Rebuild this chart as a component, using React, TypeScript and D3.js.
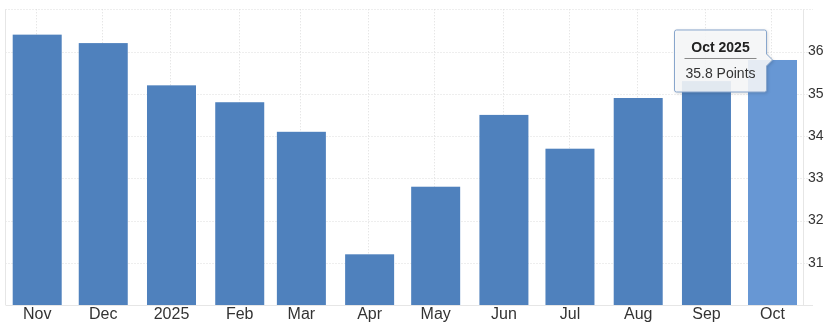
import React from "react";
import * as d3 from "d3";

const W = 833;
const H = 332;

const monthLabels = ["Nov", "Dec", "2025", "Feb", "Mar", "Apr", "May", "Jun", "Jul", "Aug", "Sep", "Oct"];
const monthDates = [
  [2024, 10], [2024, 11], [2025, 0], [2025, 1], [2025, 2], [2025, 3],
  [2025, 4], [2025, 5], [2025, 6], [2025, 7], [2025, 8], [2025, 9],
];
const values = [36.4, 36.2, 35.2, 34.8, 34.1, 31.2, 32.8, 34.5, 33.7, 34.9, 35.3, 35.8];
const yTicks = [31, 32, 33, 34, 35, 36];
const tooltipTitle = "Oct 2025";
const tooltipText = "35.8 Points";

const FONT = "'Liberation Sans', Arial, sans-serif";

export default function App() {
  const dates = monthDates.map(([y, m]) => new Date(Date.UTC(y, m, 1)));
  const x = d3.scaleUtc().domain([dates[0], dates[dates.length - 1]]).range([37.2, 772.5]);
  const y = d3.scaleLinear().domain([30, 37]).range([305, 9.3]);
  const barW = 49;
  const plotL = 5.5;
  const plotR = 803.5;
  const gridColor = "#dcdcdc";
  const axisColor = "#e6e6e6";

  const last = values.length - 1;
  const tipX = x(dates[last]);
  const tipY = y(values[last]);
  const boxW = 92;
  const boxH = 62;
  const boxR = tipX - 6;
  const boxL = boxR - boxW;
  const boxT = tipY - 30;
  const cx = (boxL + boxR) / 2;

  return (
    <div style={{ position: "fixed", left: 0, top: 0 }}>
      <svg width={W} height={H} style={{ display: "block", fontFamily: FONT }}>
        {/* horizontal gridlines */}
        {[...yTicks, 37].map((t) => (
          <line key={"h" + t} x1={plotL} x2={t === 37 ? 813 : 808} y1={Math.round(y(t)) + 0.5} y2={Math.round(y(t)) + 0.5}
            stroke={gridColor} strokeDasharray="1,2" />
        ))}
        {/* vertical gridlines */}
        {dates.map((d, i) => (
          <line key={"v" + i} x1={Math.round(x(d) - 1.2) + 0.5} x2={Math.round(x(d) - 1.2) + 0.5} y1={y(37)} y2={305}
            stroke={gridColor} strokeDasharray="1,2" />
        ))}
        {/* axis lines */}
        <line x1={plotL} x2={plotL} y1={y(37)} y2={305} stroke={axisColor} />
        <line x1={plotR} x2={plotR} y1={y(37)} y2={305} stroke={axisColor} />
        <line x1={plotL} x2={813} y1={305.5} y2={305.5} stroke={axisColor} />
        {/* bars */}
        {values.map((v, i) => (
          <rect key={"b" + i} x={x(dates[i]) - barW / 2} y={y(v)} width={barW} height={305 - y(v)}
            fill={i === last ? "#6797d4" : "#4f81bd"} />
        ))}
        {/* x labels */}
        {monthLabels.map((m, i) => (
          <text key={"x" + i} x={x(dates[i])} y={319} textAnchor="middle" fontSize={16} fill="#333">{m}</text>
        ))}
        {/* y labels */}
        {yTicks.map((t) => (
          <text key={"y" + t} x={808} y={y(t) + 3.8} fontSize={14} fill="#333">{t}</text>
        ))}
        {/* tooltip */}
        <g>
          <path
            d={`M${boxL + 2},${boxT} H${boxR - 2} Q${boxR},${boxT} ${boxR},${boxT + 2} V${tipY - 6} L${tipX},${tipY} L${boxR},${tipY + 6} V${boxT + boxH - 2} Q${boxR},${boxT + boxH} ${boxR - 2},${boxT + boxH} H${boxL + 2} Q${boxL},${boxT + boxH} ${boxL},${boxT + boxH - 2} V${boxT + 2} Q${boxL},${boxT} ${boxL + 2},${boxT} Z`}
            fill="rgba(248,249,251,0.88)" stroke="#88a6cc" strokeWidth={1}
            style={{ filter: "drop-shadow(1px 1px 1.5px rgba(0,0,0,0.15))" }}
          />
          <text x={cx} y={boxT + 22} textAnchor="middle" fontSize={14} fontWeight="bold" fill="#222">{tooltipTitle}</text>
          <line x1={boxL + 10} x2={boxR - 10} y1={boxT + 28.5} y2={boxT + 28.5} stroke="#888" />
          <text x={cx} y={boxT + 48} textAnchor="middle" fontSize={14} fill="#333">{tooltipText}</text>
        </g>
      </svg>
    </div>
  );
}
